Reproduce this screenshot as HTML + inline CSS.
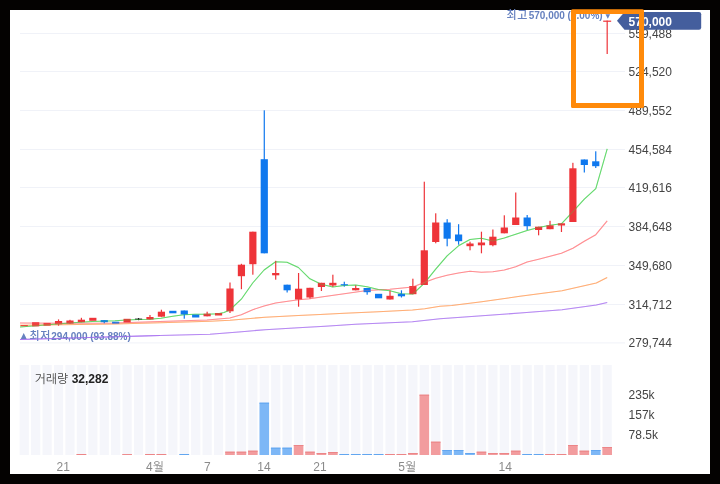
<!DOCTYPE html>
<html lang="ko"><head><meta charset="utf-8"><title>chart</title>
<style>
html,body{margin:0;padding:0;background:#040201;}
body{width:720px;height:484px;position:relative;overflow:hidden;font-family:"Liberation Sans","NanumGothic","Noto Sans CJK KR",sans-serif;}
svg text{font-family:"Liberation Sans","NanumGothic","Noto Sans CJK KR",sans-serif;}
.ax{font-size:12px;fill:#444;}
.xl{font-size:12px;fill:#8a8a8a;}
.vt{font-size:12px;fill:#444;}
.vn{font-weight:bold;fill:#222;}
.hl{font-size:10.5px;fill:#6681bf;}
.hb{font-weight:bold;font-size:10px;}
.kr{font-family:"Noto Sans CJK KR","NanumGothic",sans-serif !important;font-weight:500;font-size:11px;}
.tri{font-family:"DejaVu Sans",sans-serif !important;fill:#6681bf;}
.tag{font-size:12px;font-weight:bold;fill:#fff;}
</style></head><body>
<svg width="720" height="484" viewBox="0 0 720 484" style="position:absolute;left:0;top:0">
<rect x="0" y="0" width="720" height="484" fill="#040201"/>
<rect x="10" y="10" width="700" height="464" fill="#fff"/>
<rect x="20" y="33.0" width="605" height="1" fill="#f0f2f8"/>
<rect x="20" y="71.0" width="605" height="1" fill="#f0f2f8"/>
<rect x="20" y="110.0" width="605" height="1" fill="#f0f2f8"/>
<rect x="20" y="149.0" width="605" height="1" fill="#f0f2f8"/>
<rect x="20" y="187.0" width="605" height="1" fill="#f0f2f8"/>
<rect x="20" y="226.0" width="605" height="1" fill="#f0f2f8"/>
<rect x="20" y="265.0" width="605" height="1" fill="#f0f2f8"/>
<rect x="20" y="304.0" width="605" height="1" fill="#f0f2f8"/>
<rect x="20" y="342.4" width="605" height="1" fill="#f0f2f8"/>
<rect x="19.65" y="365" width="9.2" height="90" fill="#f5f6fb"/>
<rect x="31.08" y="365" width="9.2" height="90" fill="#f5f6fb"/>
<rect x="42.51" y="365" width="9.2" height="90" fill="#f5f6fb"/>
<rect x="53.94" y="365" width="9.2" height="90" fill="#f5f6fb"/>
<rect x="65.37" y="365" width="9.2" height="90" fill="#f5f6fb"/>
<rect x="76.80" y="365" width="9.2" height="90" fill="#f5f6fb"/>
<rect x="88.23" y="365" width="9.2" height="90" fill="#f5f6fb"/>
<rect x="99.66" y="365" width="9.2" height="90" fill="#f5f6fb"/>
<rect x="111.09" y="365" width="9.2" height="90" fill="#f5f6fb"/>
<rect x="122.52" y="365" width="9.2" height="90" fill="#f5f6fb"/>
<rect x="133.95" y="365" width="9.2" height="90" fill="#f5f6fb"/>
<rect x="145.38" y="365" width="9.2" height="90" fill="#f5f6fb"/>
<rect x="156.81" y="365" width="9.2" height="90" fill="#f5f6fb"/>
<rect x="168.24" y="365" width="9.2" height="90" fill="#f5f6fb"/>
<rect x="179.67" y="365" width="9.2" height="90" fill="#f5f6fb"/>
<rect x="191.10" y="365" width="9.2" height="90" fill="#f5f6fb"/>
<rect x="202.53" y="365" width="9.2" height="90" fill="#f5f6fb"/>
<rect x="213.96" y="365" width="9.2" height="90" fill="#f5f6fb"/>
<rect x="225.39" y="365" width="9.2" height="90" fill="#f5f6fb"/>
<rect x="236.82" y="365" width="9.2" height="90" fill="#f5f6fb"/>
<rect x="248.25" y="365" width="9.2" height="90" fill="#f5f6fb"/>
<rect x="259.68" y="365" width="9.2" height="90" fill="#f5f6fb"/>
<rect x="271.11" y="365" width="9.2" height="90" fill="#f5f6fb"/>
<rect x="282.54" y="365" width="9.2" height="90" fill="#f5f6fb"/>
<rect x="293.97" y="365" width="9.2" height="90" fill="#f5f6fb"/>
<rect x="305.40" y="365" width="9.2" height="90" fill="#f5f6fb"/>
<rect x="316.83" y="365" width="9.2" height="90" fill="#f5f6fb"/>
<rect x="328.26" y="365" width="9.2" height="90" fill="#f5f6fb"/>
<rect x="339.69" y="365" width="9.2" height="90" fill="#f5f6fb"/>
<rect x="351.12" y="365" width="9.2" height="90" fill="#f5f6fb"/>
<rect x="362.55" y="365" width="9.2" height="90" fill="#f5f6fb"/>
<rect x="373.98" y="365" width="9.2" height="90" fill="#f5f6fb"/>
<rect x="385.41" y="365" width="9.2" height="90" fill="#f5f6fb"/>
<rect x="396.84" y="365" width="9.2" height="90" fill="#f5f6fb"/>
<rect x="408.27" y="365" width="9.2" height="90" fill="#f5f6fb"/>
<rect x="419.70" y="365" width="9.2" height="90" fill="#f5f6fb"/>
<rect x="431.13" y="365" width="9.2" height="90" fill="#f5f6fb"/>
<rect x="442.56" y="365" width="9.2" height="90" fill="#f5f6fb"/>
<rect x="453.99" y="365" width="9.2" height="90" fill="#f5f6fb"/>
<rect x="465.42" y="365" width="9.2" height="90" fill="#f5f6fb"/>
<rect x="476.85" y="365" width="9.2" height="90" fill="#f5f6fb"/>
<rect x="488.28" y="365" width="9.2" height="90" fill="#f5f6fb"/>
<rect x="499.71" y="365" width="9.2" height="90" fill="#f5f6fb"/>
<rect x="511.14" y="365" width="9.2" height="90" fill="#f5f6fb"/>
<rect x="522.57" y="365" width="9.2" height="90" fill="#f5f6fb"/>
<rect x="534.00" y="365" width="9.2" height="90" fill="#f5f6fb"/>
<rect x="545.43" y="365" width="9.2" height="90" fill="#f5f6fb"/>
<rect x="556.86" y="365" width="9.2" height="90" fill="#f5f6fb"/>
<rect x="568.29" y="365" width="9.2" height="90" fill="#f5f6fb"/>
<rect x="579.72" y="365" width="9.2" height="90" fill="#f5f6fb"/>
<rect x="591.15" y="365" width="9.2" height="90" fill="#f5f6fb"/>
<rect x="602.58" y="365" width="9.2" height="90" fill="#f5f6fb"/>
<rect x="76.60" y="454.0" width="9.6" height="1.0" fill="#f29c9e"/>
<rect x="76.60" y="454.0" width="9.6" height="1.0" fill="#ec8587"/>
<rect x="122.32" y="454.2" width="9.6" height="0.8" fill="#f29c9e"/>
<rect x="122.32" y="454.2" width="9.6" height="0.8" fill="#ec8587"/>
<rect x="145.18" y="454.0" width="9.6" height="1.0" fill="#f29c9e"/>
<rect x="145.18" y="454.0" width="9.6" height="1.0" fill="#ec8587"/>
<rect x="156.61" y="454.0" width="9.6" height="1.0" fill="#f29c9e"/>
<rect x="156.61" y="454.0" width="9.6" height="1.0" fill="#ec8587"/>
<rect x="179.47" y="454.0" width="9.6" height="1.0" fill="#7db7f6"/>
<rect x="179.47" y="454.0" width="9.6" height="1.0" fill="#62a6f0"/>
<rect x="225.19" y="451.7" width="9.6" height="3.3" fill="#f29c9e"/>
<rect x="225.19" y="451.7" width="9.6" height="1.0" fill="#ec8587"/>
<rect x="236.62" y="451.7" width="9.6" height="3.3" fill="#f29c9e"/>
<rect x="236.62" y="451.7" width="9.6" height="1.0" fill="#ec8587"/>
<rect x="248.05" y="450.7" width="9.6" height="4.3" fill="#f29c9e"/>
<rect x="248.05" y="450.7" width="9.6" height="1.0" fill="#ec8587"/>
<rect x="259.48" y="402.7" width="9.6" height="52.3" fill="#7db7f6"/>
<rect x="259.48" y="402.7" width="9.6" height="1.0" fill="#62a6f0"/>
<rect x="270.91" y="447.7" width="9.6" height="7.3" fill="#7db7f6"/>
<rect x="270.91" y="447.7" width="9.6" height="1.0" fill="#62a6f0"/>
<rect x="282.34" y="447.7" width="9.6" height="7.3" fill="#7db7f6"/>
<rect x="282.34" y="447.7" width="9.6" height="1.0" fill="#62a6f0"/>
<rect x="293.77" y="445.0" width="9.6" height="10.0" fill="#f29c9e"/>
<rect x="293.77" y="445.0" width="9.6" height="1.0" fill="#ec8587"/>
<rect x="305.20" y="451.7" width="9.6" height="3.3" fill="#f29c9e"/>
<rect x="305.20" y="451.7" width="9.6" height="1.0" fill="#ec8587"/>
<rect x="316.63" y="453.0" width="9.6" height="2.0" fill="#f29c9e"/>
<rect x="316.63" y="453.0" width="9.6" height="1.0" fill="#ec8587"/>
<rect x="328.06" y="452.0" width="9.6" height="3.0" fill="#f29c9e"/>
<rect x="328.06" y="452.0" width="9.6" height="1.0" fill="#ec8587"/>
<rect x="339.49" y="454.0" width="9.6" height="1.0" fill="#7db7f6"/>
<rect x="339.49" y="454.0" width="9.6" height="1.0" fill="#62a6f0"/>
<rect x="350.92" y="454.0" width="9.6" height="1.0" fill="#7db7f6"/>
<rect x="350.92" y="454.0" width="9.6" height="1.0" fill="#62a6f0"/>
<rect x="362.35" y="454.0" width="9.6" height="1.0" fill="#7db7f6"/>
<rect x="362.35" y="454.0" width="9.6" height="1.0" fill="#62a6f0"/>
<rect x="373.78" y="454.0" width="9.6" height="1.0" fill="#7db7f6"/>
<rect x="373.78" y="454.0" width="9.6" height="1.0" fill="#62a6f0"/>
<rect x="385.21" y="454.0" width="9.6" height="1.0" fill="#f29c9e"/>
<rect x="385.21" y="454.0" width="9.6" height="1.0" fill="#ec8587"/>
<rect x="396.64" y="454.0" width="9.6" height="1.0" fill="#f29c9e"/>
<rect x="396.64" y="454.0" width="9.6" height="1.0" fill="#ec8587"/>
<rect x="408.07" y="453.0" width="9.6" height="2.0" fill="#f29c9e"/>
<rect x="408.07" y="453.0" width="9.6" height="1.0" fill="#ec8587"/>
<rect x="419.50" y="394.7" width="9.6" height="60.3" fill="#f29c9e"/>
<rect x="419.50" y="394.7" width="9.6" height="1.0" fill="#ec8587"/>
<rect x="430.93" y="441.7" width="9.6" height="13.3" fill="#f29c9e"/>
<rect x="430.93" y="441.7" width="9.6" height="1.0" fill="#ec8587"/>
<rect x="442.36" y="450.0" width="9.6" height="5.0" fill="#7db7f6"/>
<rect x="442.36" y="450.0" width="9.6" height="1.0" fill="#62a6f0"/>
<rect x="453.79" y="450.0" width="9.6" height="5.0" fill="#7db7f6"/>
<rect x="453.79" y="450.0" width="9.6" height="1.0" fill="#62a6f0"/>
<rect x="465.22" y="453.0" width="9.6" height="2.0" fill="#7db7f6"/>
<rect x="465.22" y="453.0" width="9.6" height="1.0" fill="#62a6f0"/>
<rect x="476.65" y="451.7" width="9.6" height="3.3" fill="#f29c9e"/>
<rect x="476.65" y="451.7" width="9.6" height="1.0" fill="#ec8587"/>
<rect x="488.08" y="453.0" width="9.6" height="2.0" fill="#f29c9e"/>
<rect x="488.08" y="453.0" width="9.6" height="1.0" fill="#ec8587"/>
<rect x="499.51" y="453.0" width="9.6" height="2.0" fill="#f29c9e"/>
<rect x="499.51" y="453.0" width="9.6" height="1.0" fill="#ec8587"/>
<rect x="510.94" y="450.7" width="9.6" height="4.3" fill="#f29c9e"/>
<rect x="510.94" y="450.7" width="9.6" height="1.0" fill="#ec8587"/>
<rect x="522.37" y="454.0" width="9.6" height="1.0" fill="#7db7f6"/>
<rect x="522.37" y="454.0" width="9.6" height="1.0" fill="#62a6f0"/>
<rect x="533.80" y="454.0" width="9.6" height="1.0" fill="#7db7f6"/>
<rect x="533.80" y="454.0" width="9.6" height="1.0" fill="#62a6f0"/>
<rect x="545.23" y="454.0" width="9.6" height="1.0" fill="#f29c9e"/>
<rect x="545.23" y="454.0" width="9.6" height="1.0" fill="#ec8587"/>
<rect x="556.66" y="454.0" width="9.6" height="1.0" fill="#f29c9e"/>
<rect x="556.66" y="454.0" width="9.6" height="1.0" fill="#ec8587"/>
<rect x="568.09" y="445.0" width="9.6" height="10.0" fill="#f29c9e"/>
<rect x="568.09" y="445.0" width="9.6" height="1.0" fill="#ec8587"/>
<rect x="579.52" y="450.7" width="9.6" height="4.3" fill="#f29c9e"/>
<rect x="579.52" y="450.7" width="9.6" height="1.0" fill="#ec8587"/>
<rect x="590.95" y="450.0" width="9.6" height="5.0" fill="#7db7f6"/>
<rect x="590.95" y="450.0" width="9.6" height="1.0" fill="#62a6f0"/>
<rect x="602.38" y="447.0" width="9.6" height="8.0" fill="#f29c9e"/>
<rect x="602.38" y="447.0" width="9.6" height="1.0" fill="#ec8587"/>
<polyline fill="none" stroke="#a56cf0" stroke-width="1.05" stroke-opacity="0.72" stroke-linejoin="round" points="20.0,339.6 115.0,336.8 160.0,335.5 210.0,334.2 241.7,331.7 265.0,329.7 298.3,327.8 325.0,326.2 355.5,324.2 389.7,322.8 412.5,321.7 440.0,318.7 520.0,313.0 562.0,309.7 596.3,305.0 607.2,302.5"/>
<polyline fill="none" stroke="#ff9a55" stroke-width="1.05" stroke-opacity="0.72" stroke-linejoin="round" points="20.0,325.2 60.0,324.8 115.0,324.0 160.0,322.8 210.0,321.2 230.0,320.3 241.7,319.2 265.0,317.2 298.3,315.5 320.0,314.6 344.5,313.3 378.3,311.7 412.5,310.0 424.7,308.8 440.0,306.2 451.7,305.5 481.7,301.7 520.0,296.3 562.0,290.8 596.3,283.0 607.2,277.5"/>
<polyline fill="none" stroke="#ff7378" stroke-width="1.05" stroke-opacity="0.72" stroke-linejoin="round" points="20.0,323.0 60.0,323.3 115.0,323.0 160.0,321.5 207.0,320.0 229.8,318.0 241.3,314.7 252.7,309.7 264.1,306.0 275.6,303.0 298.4,299.7 309.9,298.7 321.3,297.0 344.2,293.7 367.0,290.5 389.9,289.2 412.8,287.0 424.2,282.5 435.7,278.3 447.1,275.3 458.5,273.0 470.0,271.3 481.4,272.2 492.8,271.7 504.3,270.0 515.7,266.7 527.1,262.0 538.6,259.2 561.4,253.3 572.9,248.3 584.3,241.3 595.8,234.7 607.2,220.8"/>
<polyline fill="none" stroke="#3fd04a" stroke-width="1.05" stroke-opacity="0.72" stroke-linejoin="round" points="20.0,327.0 35.8,325.7 57.0,323.9 80.0,322.2 92.0,321.5 115.0,320.8 126.7,320.0 138.0,319.5 150.0,319.2 160.8,318.3 172.8,316.3 183.8,314.7 195.0,314.2 207.0,314.2 218.0,313.7 224.0,312.5 229.8,310.0 241.3,299.2 252.7,283.0 264.1,270.0 275.6,261.7 287.0,262.2 298.4,267.5 309.9,278.8 321.3,284.2 332.8,287.0 344.2,285.5 355.6,285.0 367.0,286.7 378.4,289.5 389.9,290.8 401.3,293.7 412.8,294.0 424.2,283.3 435.7,269.2 447.1,255.8 458.5,245.8 470.0,239.5 481.4,238.3 492.8,241.0 504.3,238.0 515.7,234.2 527.1,230.5 538.6,227.5 550.0,225.3 561.4,223.8 572.9,211.7 584.3,199.2 595.8,188.7 607.2,148.8"/>
<rect x="20.65" y="325.0" width="7.2" height="1.2" fill="#ee3439"/>
<rect x="32.08" y="322.2" width="7.2" height="4.2" fill="#ee3439"/>
<rect x="43.51" y="322.9" width="7.2" height="2.8" fill="#ee3439"/>
<rect x="57.94" y="319.4" width="1.2" height="6.3" fill="#ee3439"/>
<rect x="54.94" y="321.0" width="7.2" height="3.3" fill="#ee3439"/>
<rect x="69.37" y="319.8" width="1.2" height="4.2" fill="#ee3439"/>
<rect x="66.37" y="320.5" width="7.2" height="3.1" fill="#ee3439"/>
<rect x="80.80" y="317.8" width="1.2" height="4.4" fill="#ee3439"/>
<rect x="77.80" y="319.7" width="7.2" height="2.5" fill="#ee3439"/>
<rect x="89.23" y="317.8" width="7.2" height="3.0" fill="#ee3439"/>
<rect x="103.66" y="320.1" width="1.2" height="3.2" fill="#0f78ee"/>
<rect x="100.66" y="320.1" width="7.2" height="2.1" fill="#0f78ee"/>
<rect x="112.09" y="321.7" width="7.2" height="2.0" fill="#0f78ee"/>
<rect x="123.52" y="318.8" width="7.2" height="3.7" fill="#ee3439"/>
<rect x="137.95" y="318.0" width="1.2" height="2.2" fill="#222"/>
<rect x="134.95" y="318.6" width="7.2" height="1.0" fill="#222"/>
<rect x="149.38" y="315.0" width="1.2" height="4.5" fill="#ee3439"/>
<rect x="146.38" y="317.0" width="7.2" height="2.5" fill="#ee3439"/>
<rect x="160.81" y="309.7" width="1.2" height="7.0" fill="#ee3439"/>
<rect x="157.81" y="311.7" width="7.2" height="5.0" fill="#ee3439"/>
<rect x="169.24" y="310.8" width="7.2" height="2.5" fill="#0f78ee"/>
<rect x="183.67" y="310.5" width="1.2" height="8.2" fill="#0f78ee"/>
<rect x="180.67" y="310.5" width="7.2" height="4.0" fill="#0f78ee"/>
<rect x="192.10" y="314.5" width="7.2" height="3.0" fill="#0f78ee"/>
<rect x="206.53" y="311.7" width="1.2" height="4.6" fill="#ee3439"/>
<rect x="203.53" y="313.7" width="7.2" height="2.6" fill="#ee3439"/>
<rect x="214.96" y="313.0" width="7.2" height="2.5" fill="#ee3439"/>
<rect x="229.39" y="282.5" width="1.2" height="30.5" fill="#ee3439"/>
<rect x="226.39" y="288.5" width="7.2" height="22.8" fill="#ee3439"/>
<rect x="240.82" y="263.8" width="1.2" height="25.4" fill="#ee3439"/>
<rect x="237.82" y="264.7" width="7.2" height="11.5" fill="#ee3439"/>
<rect x="252.25" y="231.7" width="1.2" height="43.0" fill="#ee3439"/>
<rect x="249.25" y="231.7" width="7.2" height="32.5" fill="#ee3439"/>
<rect x="263.68" y="110.3" width="1.2" height="143.0" fill="#0f78ee"/>
<rect x="260.68" y="159.2" width="7.2" height="94.1" fill="#0f78ee"/>
<rect x="275.11" y="260.8" width="1.2" height="18.9" fill="#ee3439"/>
<rect x="272.11" y="273.0" width="7.2" height="2.3" fill="#ee3439"/>
<rect x="286.54" y="284.7" width="1.2" height="7.8" fill="#0f78ee"/>
<rect x="283.54" y="284.7" width="7.2" height="5.6" fill="#0f78ee"/>
<rect x="297.97" y="273.0" width="1.2" height="33.7" fill="#ee3439"/>
<rect x="294.97" y="288.7" width="7.2" height="10.8" fill="#ee3439"/>
<rect x="309.40" y="287.8" width="1.2" height="10.9" fill="#ee3439"/>
<rect x="306.40" y="287.8" width="7.2" height="9.7" fill="#ee3439"/>
<rect x="320.83" y="282.8" width="1.2" height="8.2" fill="#ee3439"/>
<rect x="317.83" y="282.8" width="7.2" height="4.2" fill="#ee3439"/>
<rect x="332.26" y="274.7" width="1.2" height="12.3" fill="#ee3439"/>
<rect x="329.26" y="282.8" width="7.2" height="2.7" fill="#ee3439"/>
<rect x="343.69" y="281.7" width="1.2" height="5.0" fill="#0f78ee"/>
<rect x="340.69" y="284.2" width="7.2" height="1.2" fill="#0f78ee"/>
<rect x="355.12" y="285.3" width="1.2" height="5.0" fill="#ee3439"/>
<rect x="352.12" y="288.0" width="7.2" height="2.3" fill="#ee3439"/>
<rect x="366.55" y="288.0" width="1.2" height="6.7" fill="#0f78ee"/>
<rect x="363.55" y="288.0" width="7.2" height="4.2" fill="#0f78ee"/>
<rect x="374.98" y="293.8" width="7.2" height="4.5" fill="#0f78ee"/>
<rect x="389.41" y="290.5" width="1.2" height="9.0" fill="#ee3439"/>
<rect x="386.41" y="295.8" width="7.2" height="3.7" fill="#ee3439"/>
<rect x="400.84" y="290.3" width="1.2" height="7.2" fill="#0f78ee"/>
<rect x="397.84" y="293.8" width="7.2" height="2.5" fill="#0f78ee"/>
<rect x="412.27" y="278.7" width="1.2" height="15.5" fill="#ee3439"/>
<rect x="409.27" y="286.0" width="7.2" height="8.2" fill="#ee3439"/>
<rect x="423.70" y="181.7" width="1.2" height="103.3" fill="#ee3439"/>
<rect x="420.70" y="250.3" width="7.2" height="34.7" fill="#ee3439"/>
<rect x="435.13" y="213.3" width="1.2" height="30.0" fill="#ee3439"/>
<rect x="432.13" y="222.5" width="7.2" height="19.5" fill="#ee3439"/>
<rect x="446.56" y="219.2" width="1.2" height="27.1" fill="#0f78ee"/>
<rect x="443.56" y="222.5" width="7.2" height="16.2" fill="#0f78ee"/>
<rect x="457.99" y="224.2" width="1.2" height="20.5" fill="#0f78ee"/>
<rect x="454.99" y="234.5" width="7.2" height="6.7" fill="#0f78ee"/>
<rect x="469.42" y="241.7" width="1.2" height="8.6" fill="#ee3439"/>
<rect x="466.42" y="243.5" width="7.2" height="2.7" fill="#ee3439"/>
<rect x="480.85" y="231.7" width="1.2" height="21.6" fill="#ee3439"/>
<rect x="477.85" y="242.5" width="7.2" height="2.8" fill="#ee3439"/>
<rect x="492.28" y="229.5" width="1.2" height="16.8" fill="#ee3439"/>
<rect x="489.28" y="236.7" width="7.2" height="8.5" fill="#ee3439"/>
<rect x="503.71" y="215.3" width="1.2" height="18.0" fill="#ee3439"/>
<rect x="500.71" y="227.5" width="7.2" height="5.8" fill="#ee3439"/>
<rect x="515.14" y="192.5" width="1.2" height="32.5" fill="#ee3439"/>
<rect x="512.14" y="217.5" width="7.2" height="7.5" fill="#ee3439"/>
<rect x="526.57" y="215.0" width="1.2" height="15.0" fill="#0f78ee"/>
<rect x="523.57" y="217.5" width="7.2" height="8.7" fill="#0f78ee"/>
<rect x="538.00" y="226.7" width="1.2" height="8.6" fill="#ee3439"/>
<rect x="535.00" y="226.7" width="7.2" height="3.3" fill="#ee3439"/>
<rect x="549.43" y="220.8" width="1.2" height="8.4" fill="#ee3439"/>
<rect x="546.43" y="225.3" width="7.2" height="3.9" fill="#ee3439"/>
<rect x="560.86" y="223.3" width="1.2" height="8.7" fill="#ee3439"/>
<rect x="557.86" y="223.3" width="7.2" height="2.2" fill="#ee3439"/>
<rect x="572.29" y="162.8" width="1.2" height="59.2" fill="#ee3439"/>
<rect x="569.29" y="168.3" width="7.2" height="53.7" fill="#ee3439"/>
<rect x="583.72" y="159.5" width="1.2" height="13.0" fill="#0f78ee"/>
<rect x="580.72" y="159.5" width="7.2" height="5.5" fill="#0f78ee"/>
<rect x="595.15" y="151.3" width="1.2" height="16.7" fill="#0f78ee"/>
<rect x="592.15" y="161.3" width="7.2" height="4.9" fill="#0f78ee"/>
<rect x="606.58" y="20.6" width="1.2" height="33.4" fill="#ee3439"/>
<rect x="603.18" y="20.6" width="8" height="1.2" fill="#ee3439"/>
<polyline fill="none" stroke="#a56cf0" stroke-width="1.05" stroke-opacity="0.3" stroke-linejoin="round" points="20.0,339.6 115.0,336.8 160.0,335.5 210.0,334.2 241.7,331.7 265.0,329.7 298.3,327.8 325.0,326.2 355.5,324.2 389.7,322.8 412.5,321.7 440.0,318.7 520.0,313.0 562.0,309.7 596.3,305.0 607.2,302.5"/>
<polyline fill="none" stroke="#ff9a55" stroke-width="1.05" stroke-opacity="0.3" stroke-linejoin="round" points="20.0,325.2 60.0,324.8 115.0,324.0 160.0,322.8 210.0,321.2 230.0,320.3 241.7,319.2 265.0,317.2 298.3,315.5 320.0,314.6 344.5,313.3 378.3,311.7 412.5,310.0 424.7,308.8 440.0,306.2 451.7,305.5 481.7,301.7 520.0,296.3 562.0,290.8 596.3,283.0 607.2,277.5"/>
<polyline fill="none" stroke="#ff7378" stroke-width="1.05" stroke-opacity="0.3" stroke-linejoin="round" points="20.0,323.0 60.0,323.3 115.0,323.0 160.0,321.5 207.0,320.0 229.8,318.0 241.3,314.7 252.7,309.7 264.1,306.0 275.6,303.0 298.4,299.7 309.9,298.7 321.3,297.0 344.2,293.7 367.0,290.5 389.9,289.2 412.8,287.0 424.2,282.5 435.7,278.3 447.1,275.3 458.5,273.0 470.0,271.3 481.4,272.2 492.8,271.7 504.3,270.0 515.7,266.7 527.1,262.0 538.6,259.2 561.4,253.3 572.9,248.3 584.3,241.3 595.8,234.7 607.2,220.8"/>
<polyline fill="none" stroke="#3fd04a" stroke-width="1.05" stroke-opacity="0.3" stroke-linejoin="round" points="20.0,327.0 35.8,325.7 57.0,323.9 80.0,322.2 92.0,321.5 115.0,320.8 126.7,320.0 138.0,319.5 150.0,319.2 160.8,318.3 172.8,316.3 183.8,314.7 195.0,314.2 207.0,314.2 218.0,313.7 224.0,312.5 229.8,310.0 241.3,299.2 252.7,283.0 264.1,270.0 275.6,261.7 287.0,262.2 298.4,267.5 309.9,278.8 321.3,284.2 332.8,287.0 344.2,285.5 355.6,285.0 367.0,286.7 378.4,289.5 389.9,290.8 401.3,293.7 412.8,294.0 424.2,283.3 435.7,269.2 447.1,255.8 458.5,245.8 470.0,239.5 481.4,238.3 492.8,241.0 504.3,238.0 515.7,234.2 527.1,230.5 538.6,227.5 550.0,225.3 561.4,223.8 572.9,211.7 584.3,199.2 595.8,188.7 607.2,148.8"/>
<text x="628.6" y="37.8" class="ax">559,488</text>
<text x="628.6" y="75.8" class="ax">524,520</text>
<text x="628.6" y="114.8" class="ax">489,552</text>
<text x="628.6" y="153.8" class="ax">454,584</text>
<text x="628.6" y="191.8" class="ax">419,616</text>
<text x="628.6" y="230.8" class="ax">384,648</text>
<text x="628.6" y="269.8" class="ax">349,680</text>
<text x="628.6" y="308.8" class="ax">314,712</text>
<text x="628.6" y="347.2" class="ax">279,744</text>
<text x="628.6" y="398.6" class="ax">235k</text>
<text x="628.6" y="418.8" class="ax">157k</text>
<text x="628.6" y="438.8" class="ax">78.5k</text>
<text x="63.3" y="471" text-anchor="middle" class="xl">21</text>
<text x="155" y="471" text-anchor="middle" class="xl">4월</text>
<text x="207.3" y="471" text-anchor="middle" class="xl">7</text>
<text x="264" y="471" text-anchor="middle" class="xl">14</text>
<text x="320" y="471" text-anchor="middle" class="xl">21</text>
<text x="407.3" y="471" text-anchor="middle" class="xl">5월</text>
<text x="505.3" y="471" text-anchor="middle" class="xl">14</text>
<text x="34.5" y="382.8" class="vt">거래량 <tspan class="vn">32,282</tspan></text>
<text x="20.8" y="338.1" class="tri" font-size="7.7">▲</text>
<text x="29.4" y="340.4" class="hl kr" letter-spacing="0.7">최저</text>
<text x="51.3" y="340.3" class="hl hb">294,000 (93.88%)</text>
<polyline fill="none" stroke="#a56cf0" stroke-width="1.05" stroke-opacity="0.6" stroke-linejoin="round" points="20.0,339.6 115.0,336.8 160.0,335.5"/>
<text x="506.4" y="19.3" class="hl kr" letter-spacing="0.7">최고</text>
<text x="528.7" y="19.2" class="hl hb">570,000 (0.00%)</text>
<text x="605.4" y="18.3" class="tri" font-size="6">▼</text>
<path d="M617,20.8 L624.5,12 H699 Q701.2,12 701.2,14.2 V27.6 Q701.2,29.8 699,29.8 H624.5 Z" fill="#445e9d"/>
<text x="628.6" y="25.6" class="tag">570,000</text>
<path fill-rule="evenodd" fill="#ff8a0a" d="M572.5,9.2 H642.5 Q644,9.2 644,10.7 V106.5 Q644,108 642.5,108 H572.5 Q571,108 571,106.5 V10.7 Q571,9.2 572.5,9.2 Z M576,14 V103 H639 V14 Z"/>
</svg>
</body></html>
